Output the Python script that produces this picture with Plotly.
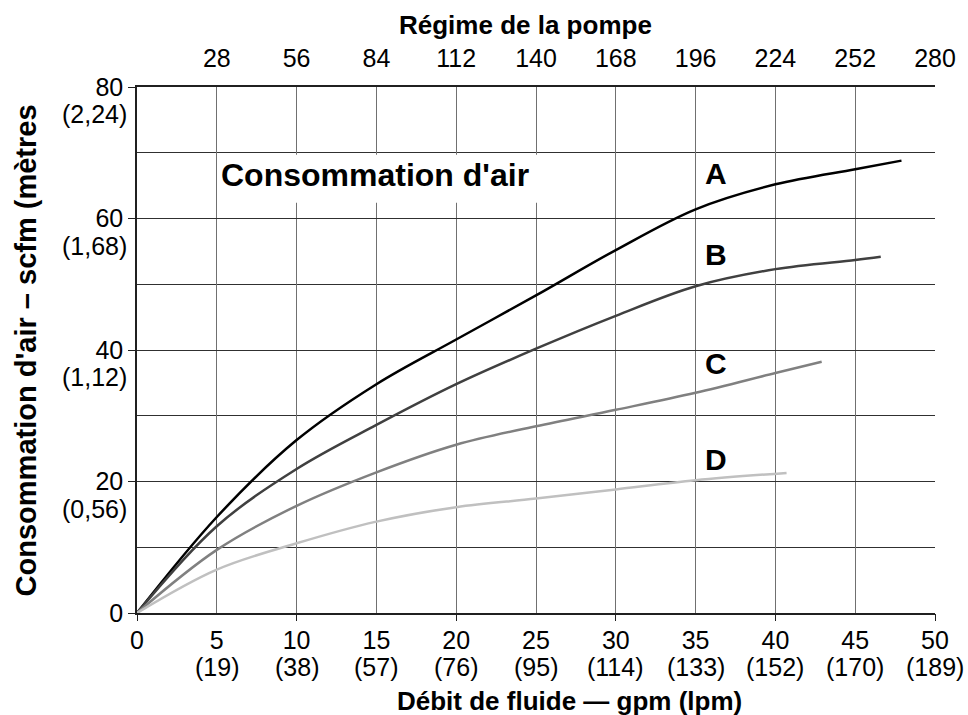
import plotly.graph_objects as go

# Air consumption curves (scfm) vs fluid flow (gpm)
flow_a = [0, 5, 10, 15, 20, 25, 30, 35, 40, 45, 47.9]
air_a = [0, 14.6, 26.3, 34.8, 41.6, 48.3, 55.2, 61.4, 65.2, 67.5, 68.8]
flow_b = [0, 5, 10, 15, 20, 25, 30, 35, 40, 45, 46.6]
air_b = [0, 13.2, 21.9, 28.6, 34.8, 40.2, 45.2, 49.7, 52.3, 53.7, 54.2]
flow_c = [0, 5, 10, 15, 20, 25, 30, 35, 40, 42.9]
air_c = [0, 9.6, 16.3, 21.4, 25.6, 28.4, 30.9, 33.5, 36.5, 38.2]
flow_d = [0, 5, 10, 15, 20, 25, 30, 35, 40.7]
air_d = [0, 6.6, 10.6, 13.9, 16.1, 17.4, 18.8, 20.2, 21.3]

curve_names = ["A", "B", "C", "D"]
curve_colors = ["#000000", "#404040", "#808080", "#c0c0c0"]
label_y = [66.8, 54.6, 38.0, 23.3]

# Axis ticks
gpm_ticks = [0, 5, 10, 15, 20, 25, 30, 35, 40, 45, 50]
lpm_labels = ["", "(19)", "(38)", "(57)", "(76)", "(95)", "(114)", "(133)",
              "(152)", "(170)", "(189)"]
scfm_ticks = [0, 20, 40, 60, 80]
m3_labels = ["", "(0,56)", "(1,12)", "(1,68)", "(2,24)"]
pump_ticks = [28, 56, 84, 112, 140, 168, 196, 224, 252, 280]

FONT = "Liberation Sans, Arial, sans-serif"
TICK = 25

fig = go.Figure()
series = [(flow_a, air_a), (flow_b, air_b), (flow_c, air_c), (flow_d, air_d)]
for (fx, fy), name, col in zip(series, curve_names, curve_colors):
    fig.add_trace(go.Scatter(x=fx, y=fy, mode="lines", name=name,
                             line=dict(color=col, width=2.5, shape="spline", smoothing=1.0),
                             showlegend=False, hoverinfo="skip"))

# empty traces so the overlay axes get their own subplots
fig.add_trace(go.Scatter(x=[], y=[], xaxis="x2", showlegend=False, hoverinfo="skip"))
fig.add_trace(go.Scatter(x=[], y=[], xaxis="x3", showlegend=False, hoverinfo="skip"))

fig.update_layout(
    width=968, height=715,
    margin=dict(l=137, r=30, t=87, b=102),
    paper_bgcolor="white", plot_bgcolor="white",
    font=dict(family=FONT, color="black", size=TICK),
    xaxis=dict(range=[0, 50], tickvals=gpm_ticks, ticktext=[str(v) for v in gpm_ticks],
               ticks="", showgrid=True, gridcolor="#707070", gridwidth=1,
               showline=True, linecolor="#202020", linewidth=1.5, zeroline=False,
               tickfont=dict(size=TICK), ticklabelstandoff=4),
    xaxis2=dict(range=[0, 280], overlaying="x", side="top", anchor="y",
                tickvals=pump_ticks, ticks="", showgrid=False, zeroline=False,
                showline=True, linecolor="#202020", linewidth=1.5,
                tickfont=dict(size=TICK), ticklabelstandoff=8),
    xaxis3=dict(range=[0, 50], overlaying="x", side="bottom", anchor="y",
                tickvals=[0, 10, 20, 30, 40, 50], ticks="outside", ticklen=7,
                tickcolor="#202020", showticklabels=False, showgrid=False,
                zeroline=False, showline=False),
    yaxis=dict(range=[0, 80], tickvals=scfm_ticks, ticks="outside", ticklen=7,
               tickcolor="#202020", showgrid=True, gridcolor="#303030", gridwidth=1,
               minor=dict(dtick=10, showgrid=True, gridcolor="#303030", gridwidth=1),
               showline=True, linecolor="#202020", linewidth=1.5, zeroline=False,
               tickfont=dict(size=TICK)),
)

# white panel behind the inner caption
fig.add_shape(type="rect", xref="x", yref="y", x0=5.05, x1=25.2, y0=62.4, y1=69.7,
              fillcolor="white", line=dict(width=0), layer="above")
fig.add_annotation(x=5.15, y=66.6, xref="x", yref="y", text="<b>Consommation d'air</b>",
                   showarrow=False, xanchor="left", yanchor="middle",
                   font=dict(size=32, family=FONT))

# curve letters
for name, ly in zip(curve_names, label_y):
    fig.add_annotation(x=35.45, y=ly, xref="x", yref="y", text=f"<b>{name}</b>",
                       showarrow=False, xanchor="left", yanchor="middle",
                       font=dict(size=30, family=FONT))

# metric equivalents under the tick labels
for v, t in zip(scfm_ticks, m3_labels):
    if t:
        fig.add_annotation(x=0, y=v, xref="paper", yref="y", text=t, showarrow=False,
                           xanchor="right", yanchor="middle", xshift=-8, yshift=-27,
                           font=dict(size=TICK, family=FONT))
for v, t in zip(gpm_ticks, lpm_labels):
    if t:
        fig.add_annotation(x=v, y=0, xref="x", yref="paper", text=t, showarrow=False,
                           xanchor="center", yanchor="middle", yshift=-54,
                           font=dict(size=TICK, family=FONT))

# axis titles
fig.add_annotation(x=-0.1386, y=0.5, xref="paper", yref="paper",
                   text="<b>Consommation d'air – scfm (mètres</b>", textangle=-90,
                   showarrow=False, xanchor="center", yanchor="middle",
                   font=dict(size=29, family=FONT))
fig.add_annotation(x=0.542, y=-0.167, xref="paper", yref="paper",
                   text="<b>Débit de fluide — gpm (lpm)</b>", showarrow=False,
                   xanchor="center", yanchor="middle", font=dict(size=26, family=FONT))
fig.add_annotation(x=0.487, y=1.118, xref="paper", yref="paper",
                   text="<b>Régime de la pompe</b>", showarrow=False,
                   xanchor="center", yanchor="middle", font=dict(size=26, family=FONT))

fig.write_html("out.html")
